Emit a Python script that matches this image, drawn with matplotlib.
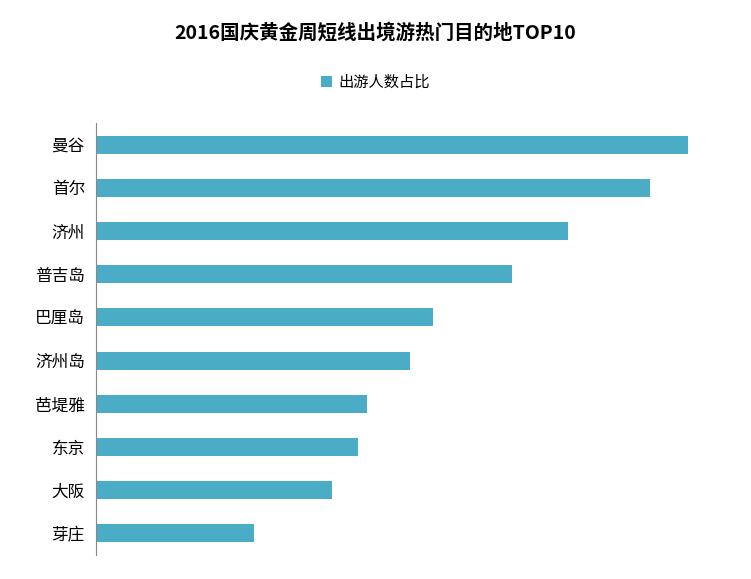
import matplotlib.pyplot as plt

plt.rcParams['font.family'] = ['Noto Sans CJK SC', 'DejaVu Sans']

# --------- Data ---------
cities = ["曼谷", "首尔", "济州", "普吉岛", "巴厘岛", "济州岛", "芭堤雅", "东京", "大阪", "芽庄"]
share = [5.92, 5.54, 4.72, 4.16, 3.37, 3.14, 2.71, 2.62, 2.36, 1.58]

COLOR = "#4BACC6"

fig = plt.figure(figsize=(7.51, 5.79), dpi=100)
ax = fig.add_axes([96 / 751, 1 - 555 / 579, 624 / 751, (555 - 123) / 579])

pos = list(range(len(cities)))
ax.barh(pos, share, height=0.42, color=COLOR, label="出游人数占比")
ax.set_yticks(pos)
ax.set_yticklabels(cities, fontsize=12)
ax.set_ylim(len(cities) - 0.5, -0.5)
ax.set_xlim(0, 6.24)
ax.set_xticks([])
ax.tick_params(axis="y", length=0, pad=8)
for s in ["top", "right", "bottom"]:
    ax.spines[s].set_visible(False)
ax.spines["left"].set_color("#888888")

fig.text(0.5, 1 - 33 / 579, "2016国庆黄金周短线出境游热门目的地TOP10",
         ha="center", va="center", fontsize=14, fontweight="bold")
ax.legend(loc="center", bbox_to_anchor=(0.5, 1 - 82 / 579), bbox_transform=fig.transFigure,
          frameon=False, fontsize=11, handlelength=0.7, handleheight=0.7, handletextpad=0.4)

fig.savefig("out.png")
